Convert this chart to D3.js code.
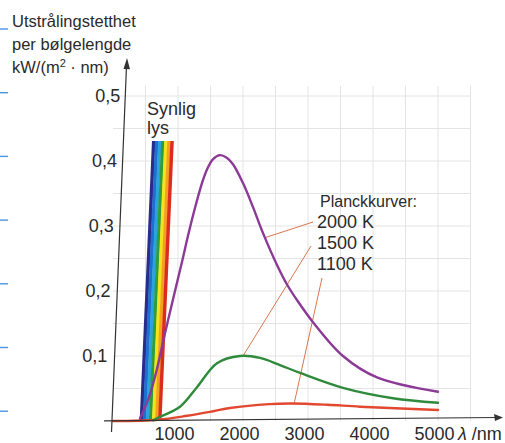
<!DOCTYPE html>
<html>
<head>
<meta charset="utf-8">
<script src="https://cdn.jsdelivr.net/npm/d3@7"></script>
<style>
  body { margin: 0; background: #fff; }
  svg text { font-family: "Liberation Sans", Arial, sans-serif; fill: #2a2a2a; }
</style>
</head>
<body>
<div id="chart"></div>
<script>

// --------------------------------------------------------
// Data: [wavelength nm, kW/(m2 nm)]
var curve2000 = [
    [415, 0.004], [538, 0.032], [646, 0.068], [800, 0.135], [954, 0.200],
    [1062, 0.245], [1154, 0.285], [1262, 0.328], [1369, 0.366], [1446, 0.387],
    [1540, 0.403], [1646, 0.409], [1750, 0.405], [1846, 0.395], [2000, 0.366],
    [2154, 0.329], [2308, 0.289], [2523, 0.240], [2677, 0.210], [2831, 0.186],
    [3077, 0.152], [3538, 0.100], [4062, 0.067], [5000, 0.045]
];
var curve1500 = [
    [620, 0.001], [692, 0.005], [1031, 0.022], [1292, 0.052], [1600, 0.089],
    [1954, 0.100], [2262, 0.097], [2569, 0.086], [2877, 0.074], [3538, 0.051],
    [4308, 0.035], [5000, 0.028]
];
var curve1100 = [
    [0, 0], [700, 0.002], [1140, 0.008], [1540, 0.015], [1800, 0.020],
    [2400, 0.026], [2750, 0.027], [3300, 0.025], [3800, 0.022], [5000, 0.017]
];
var tempLabels   = ["2000 K", "1500 K", "1100 K"];
// point on each curve where the pointer line ends
var pointerAt    = [[2338, 0.282], [2000, 0.100], [2785, 0.026]];
var visibleRange = [410, 740];
var xTicks       = [1000, 2000, 3000, 4000, 5000];
var yTicks       = [0.1, 0.2, 0.3, 0.4, 0.5];

// --------------------------------------------------------
// sizes and styles
var chart_width  = 505;
var chart_height = 443;
var curveColors  = ["#8b3a96", "#2f8a3c", "#e2472f"];
var spectrum     = ["#2a2c8c", "#1f6fcf", "#2aa3dc", "#2f9c3e", "#f4e21c", "#f3a21f", "#dc2c1f"];
var tilt         = 0.044;   // the scan is a bit skewed

var svg = d3.select("#chart")
    .append("svg")
    .attr("width", chart_width)
    .attr("height", chart_height);

var x = d3.scaleLinear().domain([0, 5000]).range([113, 438]);
var y = d3.scaleLinear().domain([0, 0.5]).range([421, 96]);

// --------------------------------------------------------
// blue marks in the margin
svg.append("g")
    .selectAll("line")
    .data(d3.range(7))
    .enter()
    .append("line")
    .attr("x1", 0).attr("x2", 8)
    .attr("y1", (d) => 29 + d * 63.7)
    .attr("y2", (d) => 29 + d * 63.7)
    .attr("stroke", "#4a94e4")
    .attr("stroke-width", 1.4);

// --------------------------------------------------------
// grid
var grid = svg.append("g").attr("stroke", "#e4e4e4").attr("stroke-width", 1);
grid.selectAll(".v")
    .data(d3.range(500, 5501, 500))
    .enter()
    .append("line")
    .attr("x1", (d) => x(d)).attr("x2", (d) => x(d))
    .attr("y1", y(0)).attr("y2", 86);
grid.selectAll(".h")
    .data(d3.range(1, 11).map((d) => d * 0.05))
    .enter()
    .append("line")
    .attr("x1", x(0)).attr("x2", x(5500))
    .attr("y1", (d) => y(d)).attr("y2", (d) => y(d));

// --------------------------------------------------------
// visible light band
var bandW = (x(visibleRange[1]) - x(visibleRange[0])) / spectrum.length;
var topY = 141, shift = tilt * (y(0) - topY);
svg.append("g")
    .selectAll("polygon")
    .data(spectrum)
    .enter()
    .append("polygon")
    .attr("points", (d, i) => {
        var x0 = x(visibleRange[0]) + i * bandW;
        return [[x0, y(0)], [x0 + bandW + 0.4, y(0)],
                [x0 + bandW + 0.4 + shift, topY], [x0 + shift, topY]].join(" ");
    })
    .attr("fill", (d) => d);

// --------------------------------------------------------
// pointer lines from the labels
var labelX = 317, labelY = [228, 249, 270];
var pointerFrom = [[313, 222], [311, 246], [322, 278]];
svg.append("g")
    .selectAll("line")
    .data(pointerAt)
    .enter()
    .append("line")
    .attr("x1", (d, i) => pointerFrom[i][0])
    .attr("y1", (d, i) => pointerFrom[i][1])
    .attr("x2", (d) => x(d[0]))
    .attr("y2", (d) => y(d[1]))
    .attr("stroke", "#d9774f")
    .attr("stroke-width", 1);

// --------------------------------------------------------
// Planck curves
var line = d3.line()
    .x((d) => x(d[0]))
    .y((d) => y(d[1]))
    .curve(d3.curveCatmullRom.alpha(0.5));

svg.append("g")
    .selectAll("path")
    .data([curve1100, curve1500, curve2000])
    .enter()
    .append("path")
    .attr("d", line)
    .attr("fill", "none")
    .attr("stroke", (d, i) => curveColors[2 - i])
    .attr("stroke-width", 2.4)
    .attr("stroke-linecap", "round");

// --------------------------------------------------------
// axes lines (drawn by hand because of the skew) with arrows
svg.append("line")
    .attr("x1", 104).attr("y1", 420.8)
    .attr("x2", 497).attr("y2", 417.5)
    .attr("stroke", "#333").attr("stroke-width", 1.2);
svg.append("path")
    .attr("d", "M503,417.4 L494,414 L495,421 Z")
    .attr("fill", "#333");
svg.append("line")
    .attr("x1", 111.5).attr("y1", 432)
    .attr("x2", 126.5).attr("y2", 66)
    .attr("stroke", "#333").attr("stroke-width", 1.2);
svg.append("path")
    .attr("d", "M127,58 L123.5,69 L130,69.3 Z")
    .attr("fill", "#333");

// tick labels through d3 axes
svg.append("g")
    .attr("transform", "translate(104,0)")
    .call(d3.axisLeft(y)
        .tickValues(yTicks)
        .tickSize(0)
        .tickPadding(0)
        .tickFormat((d) => d3.format(".1f")(d).replace(".", ",")))
    .call((g) => g.select(".domain").remove())
    .attr("font-size", 18)
    .attr("font-family", null)
    .selectAll("text")
    .attr("x", (d) => d * 32.5);

svg.append("g")
    .attr("transform", "translate(-4," + y(0) + ")")
    .call(d3.axisBottom(x)
        .tickValues(xTicks)
        .tickSize(0)
        .tickPadding(6)
        .tickFormat(d3.format("d")))
    .call((g) => g.select(".domain").remove())
    .attr("font-size", 18)
    .attr("font-family", null);

var xl = svg.append("text")
    .attr("x", 458)
    .attr("y", 439.5)
    .attr("font-size", 18);
xl.append("tspan").attr("font-style", "italic").text("λ");
xl.append("tspan").attr("dx", 5).text("/nm");

// --------------------------------------------------------
// texts
var title = ["Utstrålingstetthet", "per bølgelengde"];
svg.append("g")
    .selectAll("text")
    .data(title)
    .enter()
    .append("text")
    .attr("x", 12)
    .attr("y", (d, i) => 27 + i * 23)
    .attr("font-size", 16.5)
    .text((d) => d);
var unit = svg.append("text").attr("x", 12).attr("y", 73).attr("font-size", 16.5);
unit.append("tspan").text("kW/(m");
unit.append("tspan").attr("font-size", 11).attr("dy", -6).text("2");
unit.append("tspan").attr("dy", 6).text(" · nm)");

svg.append("text").attr("x", 147).attr("y", 115).attr("font-size", 18).text("Synlig");
svg.append("text").attr("x", 147).attr("y", 134).attr("font-size", 18).text("lys");

svg.append("text").attr("x", 320).attr("y", 207).attr("font-size", 16).text("Planckkurver:");
svg.append("g")
    .selectAll("text")
    .data(tempLabels)
    .enter()
    .append("text")
    .attr("x", labelX)
    .attr("y", (d, i) => labelY[i])
    .attr("font-size", 18)
    .text((d) => d);

</script>
</body>
</html>
